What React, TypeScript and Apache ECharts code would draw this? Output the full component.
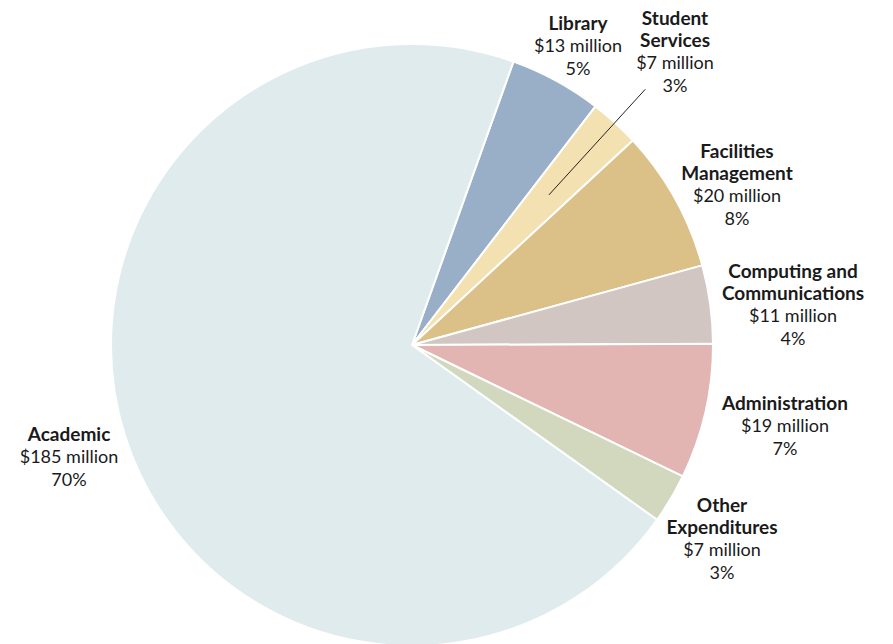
import React, { useEffect, useRef } from "react";
import * as echarts from "echarts";

const names = [
  "Library",
  "Student\nServices",
  "Facilities\nManagement",
  "Computing and\nCommunications",
  "Administration",
  "Other\nExpenditures",
  "Academic",
];
const values = [13, 7, 20, 11, 19, 7, 185];
const amountLabels = ["$13 million", "$7 million", "$20 million", "$11 million", "$19 million", "$7 million", "$185 million"];
const pctLabels = ["5%", "3%", "8%", "4%", "7%", "3%", "70%"];
const colors = ["#98afc7", "#f3e1b1", "#dbc188", "#d1c6c1", "#e2b4b2", "#d2d8be", "#e0ebed"];

// layout (not data)
const CX = 412;
const CY = 345;
const R = 301;
const START_ANGLE = 70.3;
const labelCenters: [number, number][] = [
  [578, 45],
  [675, 51],
  [737, 184],
  [793, 304],
  [785, 425],
  [722, 538],
  [69, 456],
];
const leaderIndex = 1;

export default function App() {
  const ref = useRef<HTMLDivElement>(null);
  useEffect(() => {
    if (!ref.current) return;
    const chart = echarts.init(ref.current, undefined, { renderer: "svg" });
    const total = values.reduce((a, b) => a + b, 0);
    let cum = 0;
    for (let i = 0; i < leaderIndex; i++) cum += values[i];
    const midDeg = 90 - START_ANGLE + ((cum + values[leaderIndex] / 2) / total) * 360;
    const mid = (midDeg * Math.PI) / 180;
    const r1 = R * 0.675;
    const r2 = R * 1.15;
    chart.setOption({
      animation: false,
      backgroundColor: "#ffffff",
      textStyle: { fontFamily: "Lato" },
      graphic: [
        {
          type: "line",
          z: 100,
          shape: {
            x1: CX + r1 * Math.sin(mid),
            y1: CY - r1 * Math.cos(mid),
            x2: CX + r2 * Math.sin(mid),
            y2: CY - r2 * Math.cos(mid),
          },
          style: { stroke: "#222222", lineWidth: 1 },
        },
      ],
      series: [
        {
          type: "pie",
          center: [CX, CY],
          radius: R,
          startAngle: START_ANGLE,
          clockwise: true,
          avoidLabelOverlap: false,
          emphasis: { disabled: true },
          itemStyle: { borderColor: "#ffffff", borderWidth: 2 },
          labelLine: { show: false },
          label: {
            show: true,
            position: "outside",
            formatter: (p: any) =>
              `{b|${names[p.dataIndex]}}\n{n|${amountLabels[p.dataIndex]}}\n{n|${pctLabels[p.dataIndex]}}`,
            rich: {
              b: { fontFamily: "Lato", fontWeight: "bold", fontSize: 19, lineHeight: 22.5, color: "#1a1a1a", align: "center" },
              n: { fontFamily: "Lato", fontSize: 18, lineHeight: 22.5, color: "#1a1a1a", align: "center" },
            },
          },
          labelLayout: (p: any) => ({
            x: labelCenters[p.dataIndex][0],
            y: labelCenters[p.dataIndex][1],
            align: "center",
            verticalAlign: "middle",
          }),
          data: values.map((v, i) => ({
            value: v,
            name: names[i],
            itemStyle: { color: colors[i] },
          })),
        },
      ],
    });
    return () => chart.dispose();
  }, []);
  return (
    <div
      ref={ref}
      style={{ position: "fixed", left: 0, top: 0, width: 893, height: 644 }}
    />
  );
}
